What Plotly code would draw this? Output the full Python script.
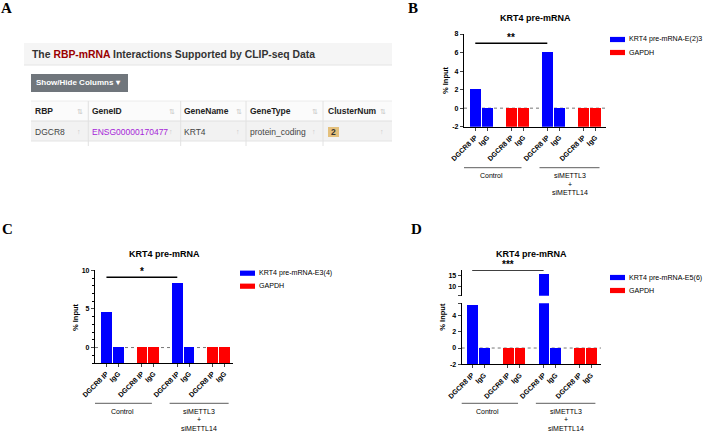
import plotly.graph_objects as go

W, H = 704, 433

# ---------------- data ----------------
bar_labels = ["DGCR8 IP", "IgG", "DGCR8 IP", "IgG", "DGCR8 IP", "IgG", "DGCR8 IP", "IgG"]
bar_series = ["target", "target", "GAPDH", "GAPDH", "target", "target", "GAPDH", "GAPDH"]
group_names = ["Control", "siMETTL3", "+", "siMETTL14"]

B_target = [2.1, 0.0, 6.1, 0.0]
B_gapdh = [0.0, 0.0, 0.0, 0.0]
C_target = [4.5, 0.05, 8.3, 0.0]
C_gapdh = [0.0, 0.0, 0.0, 0.0]
D_target = [5.27, 0.0, 15.6, 0.0]
D_gapdh = [0.0, 0.0, 0.0, 0.0]

legend_B = "KRT4 pre-mRNA-E(2)3"
legend_C = "KRT4 pre-mRNA-E3(4)"
legend_D = "KRT4 pre-mRNA-E5(6)"
panel_title = "KRT4 pre-mRNA"
sig_B, sig_C, sig_D = "**", "*", "***"
sig_y_B, sig_y_C, sig_y_D = 7.0, 9.1, 17.6

table_cols = ["RBP", "GeneID", "GeneName", "GeneType", "ClusterNum"]
table_row = ["DGCR8", "ENSG00000170477", "KRT4", "protein_coding", "2"]

BLUE = "#0000ff"
RED = "#ff0000"
FONT = "Liberation Sans, Arial, sans-serif"

def fx(p):
    return p / W

def fy(p):
    return 1 - p / H

# slot positions: pairs separated by an empty slot
positions = [i + i // 2 for i in range(len(bar_labels))]
tgt_pos = [p for p, s in zip(positions, bar_series) if s == "target"]
gap_pos = [p for p, s in zip(positions, bar_series) if s == "GAPDH"]

fig = go.Figure()

def add_bars(xa, ya, tvals, gvals, ymin):
    fig.add_trace(go.Bar(x=tgt_pos, y=[v - ymin for v in tvals], base=ymin,
                         marker=dict(color=BLUE, line=dict(width=0)), width=0.9,
                         xaxis=xa, yaxis=ya, showlegend=False))
    fig.add_trace(go.Bar(x=gap_pos, y=[v - ymin for v in gvals], base=ymin,
                         marker=dict(color=RED, line=dict(width=0)), width=0.9,
                         xaxis=xa, yaxis=ya, showlegend=False))

add_bars("x", "y", B_target, B_gapdh, -2)
add_bars("x2", "y2", C_target, C_gapdh, -2)
add_bars("x3", "y3", D_target, D_gapdh, -2)
add_bars("x4", "y4", D_target, D_gapdh, -2)

tickfont = dict(family=FONT, size=7, color="black", weight="bold")

def xax(d0, d1, r0, r1, anchor, visible=True):
    return dict(domain=[fx(d0), fx(d1)], range=[r0, r1], anchor=anchor,
                tickmode="array", tickvals=positions, ticktext=bar_labels,
                tickangle=-45, ticks="outside" if visible else "", ticklen=3,
                tickwidth=1, showticklabels=visible, showline=visible,
                linecolor="black", linewidth=1.2, showgrid=False, zeroline=False,
                tickfont=tickfont, fixedrange=True, automargin=False)

def yax(pbot, ptop, r0, r1, anchor, **kw):
    d = dict(domain=[fy(pbot), fy(ptop)], range=[r0, r1], anchor=anchor,
             ticks="outside", ticklen=3, tickwidth=1, showline=True,
             linecolor="black", linewidth=1.2, showgrid=False, zeroline=False,
             tickfont=tickfont, fixedrange=True, automargin=False)
    d.update(kw)
    return d

fig.update_layout(
    template="none",
    width=W, height=H, margin=dict(l=0, r=0, t=0, b=0, pad=0), autosize=False,
    paper_bgcolor="white", plot_bgcolor="rgba(0,0,0,0)", bargap=0,
    barmode="overlay", showlegend=False,
    xaxis=xax(464, 606, -0.94, 10.89, "y"),
    yaxis=yax(126.7, 34, -2, 8, "x", tickmode="array",
              tickvals=[-2, 0, 2, 4, 6, 8], ticktext=["-2", "0", "2", "4", "6", "8"]),
    xaxis2=xax(95, 233, -0.97, 10.72, "y2"),
    yaxis2=yax(363, 270.3, -2, 10, "x2", tickmode="array",
               tickvals=[0, 5, 10], ticktext=["0", "5", "10"],
               minor=dict(dtick=1, ticks="outside", ticklen=2, tickcolor="black")),
    xaxis3=xax(461.7, 601, -0.88, 10.82, "y3"),
    yaxis3=yax(364.3, 303.3, -2, 5.5, "x3", tickmode="array",
               tickvals=[-2, 0, 2, 4, 5.5], ticktext=["-2", "0", "2", "4", ""]),
    xaxis4=xax(461.7, 601, -0.88, 10.82, "y4", visible=False),
    yaxis4=yax(295.7, 270, 6, 17.6, "x4", tickmode="array",
               tickvals=[6, 10, 15], ticktext=["", "10", "15"]),
)

shapes = []
ann = []

# zero dotted lines
for xr, yr in [("x domain", "y"), ("x2 domain", "y2"), ("x3 domain", "y3")]:
    shapes.append(dict(type="line", xref=xr, yref=yr, x0=0, x1=1, y0=0, y1=0,
                       line=dict(color="#777777", width=1, dash="dot"), layer="below"))

# significance bars
for xr, yr, yv, star in [("x", "y", sig_y_B, sig_B), ("x2", "y2", sig_y_C, sig_C),
                         ("x4", "y4", sig_y_D, sig_D)]:
    shapes.append(dict(type="line", xref=xr, yref=yr, x0=tgt_pos[0], x1=tgt_pos[2],
                       y0=yv, y1=yv, line=dict(color="black", width=1.3)))
    ann.append(dict(xref=xr, yref=yr, x=(tgt_pos[0] + tgt_pos[2]) / 2, y=yv,
                    text="<b>" + star + "</b>", showarrow=False, yanchor="middle",
                    yshift=6, font=dict(family=FONT, size=10, color="black")))

# panel titles, y labels, group labels, legends
panels = [
    ("x", 18, 535, 445, 80, 167.7, 610, 39.5, legend_B),
    ("x2", 254.3, 164, 75, 317, 403.3, 240, 273.2, legend_C),
    ("x3", 254.3, 531.5, 441.7, 317, 403.3, 610, 277.5, legend_D),
]
for xr, ty, cx, ylx, yly, gy, lx, ly, ltxt in panels:
    ann.append(dict(xref="paper", yref="paper", x=fx(cx), y=fy(ty), text="<b>" + panel_title + "</b>",
                    showarrow=False, xanchor="center", yanchor="middle",
                    font=dict(family=FONT, size=9, color="black")))
    ann.append(dict(xref="paper", yref="paper", x=fx(ylx), y=fy(yly), text="% Input",
                    textangle=-90, showarrow=False, xanchor="center", yanchor="middle",
                    font=dict(family=FONT, size=7.5, color="black", weight="bold")))
    for gx0, gx1, lines in [(-1.2, 3.85, group_names[:1]), (5.35, 10.35, group_names[1:])]:
        shapes.append(dict(type="line", xref=xr, yref="paper", x0=gx0, x1=gx1,
                           y0=fy(gy), y1=fy(gy), line=dict(color="#333333", width=0.8)))
        for k, t in enumerate(lines):
            ann.append(dict(xref=xr, yref="paper", x=(gx0 + gx1) / 2, y=fy(gy + 8 + 8.4 * k),
                            text=t, showarrow=False, xanchor="center", yanchor="middle",
                            font=dict(family=FONT, size=7, color="black")))
    for k, (col, txt) in enumerate([(BLUE, ltxt), (RED, "GAPDH")]):
        yy = ly + k * 13
        shapes.append(dict(type="rect", xref="paper", yref="paper", x0=fx(lx), x1=fx(lx + 15),
                           y0=fy(yy + 2.6), y1=fy(yy - 2.6), fillcolor=col, line=dict(width=0)))
        ann.append(dict(xref="paper", yref="paper", x=fx(lx + 18), y=fy(yy), text=txt,
                        showarrow=False, xanchor="left", yanchor="middle", borderpad=0,
                        font=dict(family=FONT, size=7.1, color="black")))

# panel letters
for letter, x, y in [("A", 6, 8), ("B", 413, 8), ("C", 7, 229), ("D", 416, 229)]:
    ann.append(dict(xref="paper", yref="paper", x=fx(x), y=fy(y), text="<b>" + letter + "</b>",
                    showarrow=False, xanchor="center", yanchor="middle",
                    font=dict(family="Liberation Serif, Times New Roman, serif", size=15, color="black")))

# ---------------- panel A: table ----------------
def rect(x0, y0, x1, y1, fill, line="rgba(0,0,0,0)", lw=0):
    shapes.append(dict(type="rect", xref="paper", yref="paper", x0=fx(x0), x1=fx(x1),
                       y0=fy(y1), y1=fy(y0), fillcolor=fill, line=dict(color=line, width=lw)))

def hline(x0, x1, y, col="#e2e2e2", w=1):
    shapes.append(dict(type="line", xref="paper", yref="paper", x0=fx(x0), x1=fx(x1),
                       y0=fy(y), y1=fy(y), line=dict(color=col, width=w)))

def vline(x, y0, y1, col="#e2e2e2", w=1):
    shapes.append(dict(type="line", xref="paper", yref="paper", x0=fx(x), x1=fx(x),
                       y0=fy(y0), y1=fy(y1), line=dict(color=col, width=w)))

def text(x, y, t, size=8.5, color="#333333", bold=False, anchor="left"):
    ann.append(dict(xref="paper", yref="paper", x=fx(x), y=fy(y), text=t, showarrow=False,
                    xanchor=anchor, yanchor="middle", borderpad=0,
                    font=dict(family=FONT, size=size, color=color, weight="bold" if bold else "normal")))

rect(24, 43, 392, 65, "#f5f5f5")
hline(24, 392, 65, "#e4e4e4")
text(31, 54, "The <span style='color:#9a0000'>RBP-mRNA</span> Interactions Supported by CLIP-seq Data",
     size=10.4, bold=True)
rect(31, 74, 128, 92, "#70767c")
text(35, 83, "Show/Hide Columns \u25be", size=8, color="white", bold=True)

rect(31, 101, 392, 121, "#fbfbfb")
rect(31, 121, 392, 141, "#f2f2f2")
hline(31, 392, 101, "#ececec")
hline(31, 392, 121, "#e0e0e0")
hline(31, 392, 141, "#e4e4e4")
col_x = [34, 91, 183, 249, 327]
sep_x = [88.3, 180.7, 246, 323]
icon_x = [80, 172, 239, 315, 383]
for sx in sep_x:
    vline(sx, 101, 146)
for cx, name in zip(col_x, table_cols):
    text(cx, 111.5, name, size=8.5, color="#222222", bold=True)
for ix in icon_x:
    text(ix, 111.5, "\u21c5", size=7, color="#c4c4c4", anchor="center")
    text(ix - 1, 131.5, "\u2191", size=7, color="#c4c4c4", anchor="center")
text(col_x[0], 131.5, table_row[0], color="#444444")
text(col_x[1], 131.5, table_row[1], color="#a625d8")
text(col_x[2], 131.5, table_row[2], color="#444444")
text(col_x[3], 131.5, table_row[3], color="#444444")
rect(328, 127, 339, 137, "#e4c07c")
text(333.5, 132, table_row[4], size=8.5, color="#333333", bold=True, anchor="center")

fig.update_layout(shapes=shapes, annotations=ann)
fig.write_html("out.html", config={"displayModeBar": False},
               post_script="document.body.style.margin='0';document.body.style.overflow='hidden';")
